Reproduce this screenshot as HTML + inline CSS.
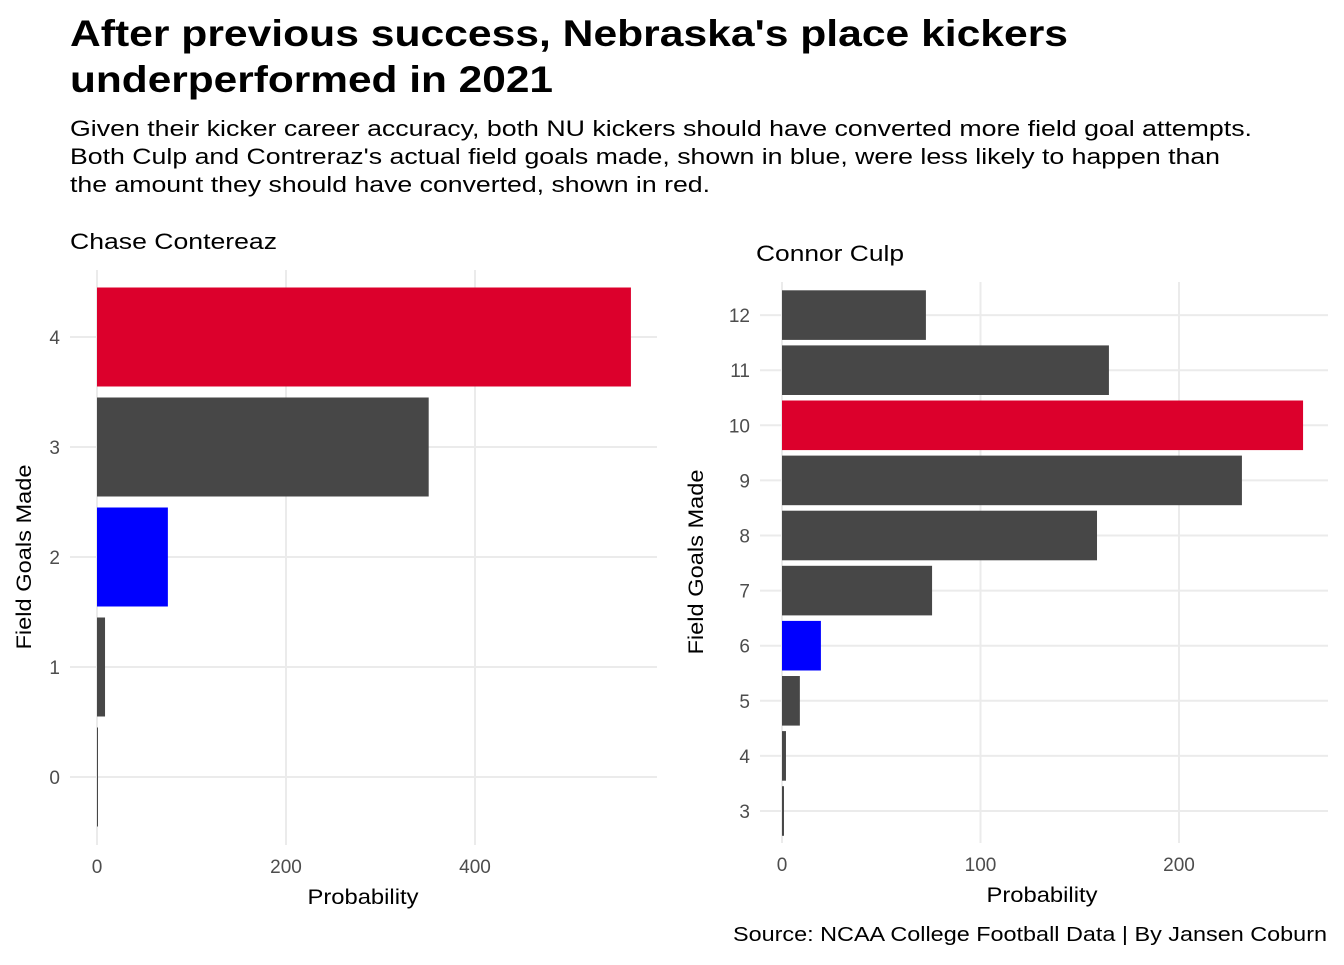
<!DOCTYPE html>
<html><head><meta charset="utf-8"><style>
body{margin:0;background:#fff;}
text{font-family:"Liberation Sans",Arial,sans-serif;}
</style></head><body>
<svg id="chart" width="1344" height="960" xmlns="http://www.w3.org/2000/svg">
<rect width="1344" height="960" fill="#fff"/>
<text x="70" y="46" font-size="37" font-weight="bold" fill="#000" textLength="998" lengthAdjust="spacingAndGlyphs">After previous success, Nebraska's place kickers</text>
<text x="70" y="92" font-size="37" font-weight="bold" fill="#000" textLength="483" lengthAdjust="spacingAndGlyphs">underperformed in 2021</text>
<text x="70" y="136" font-size="22" fill="#000" textLength="1182" lengthAdjust="spacingAndGlyphs">Given their kicker career accuracy, both NU kickers should have converted more field goal attempts.</text>
<text x="70" y="164" font-size="22" fill="#000" textLength="1150" lengthAdjust="spacingAndGlyphs">Both Culp and Contreraz's actual field goals made, shown in blue, were less likely to happen than</text>
<text x="70" y="192" font-size="22" fill="#000" textLength="640" lengthAdjust="spacingAndGlyphs">the amount they should have converted, shown in red.</text>
<text x="70" y="249" font-size="22" fill="#000" textLength="207" lengthAdjust="spacingAndGlyphs">Chase Contereaz</text>
<text x="756" y="261" font-size="22" fill="#000" textLength="148" lengthAdjust="spacingAndGlyphs">Connor Culp</text>
<g id="left"></g>
<g id="right"></g>
<text x="1327" y="941" font-size="20" text-anchor="end" fill="#000" textLength="594" lengthAdjust="spacingAndGlyphs">Source: NCAA College Football Data | By Jansen Coburn</text>
</svg>
<script>
const leftCats=[0,1,2,3,4];
const leftVals=[1,8.5,75,351,565];
const leftColors=["#474747","#474747","#0000ff","#474747","#dc002c"];
const leftTicks=[0,200,400];
const rightCats=[3,4,5,6,7,8,9,10,11,12];
const rightVals=[1,2,9,19.6,75.6,158.7,231.7,262.5,164.7,72.5];
const rightColors=["#474747","#474747","#474747","#0000ff","#474747","#474747","#474747","#dc002c","#474747","#474747"];
const rightTicks=[0,100,200];
const NS="http://www.w3.org/2000/svg";
function mk(parent,tag,attrs){const e=document.createElementNS(NS,tag);for(const k in attrs)e.setAttribute(k,attrs[k]);parent.appendChild(e);return e;}
function panel(g,cats,vals,colors,ticks,cfg){
  const xs=v=>cfg.x0+v*cfg.kx;
  const ys=c=>cfg.y0-(c-cats[0])*cfg.ky;
  ticks.forEach(t=>{
    const l=mk(g,'line',{x1:xs(t),x2:xs(t),y1:cfg.top,y2:cfg.bot,stroke:'#ebebeb','stroke-width':2});
    
    
    const tx=mk(g,'text',{x:xs(t),y:cfg.bot+28,'font-size':19,'text-anchor':'middle',fill:'#4d4d4d'});
    tx.textContent=t;
    
    
  });
  cats.forEach(c=>{
    const l=mk(g,'line',{x1:cfg.left,x2:cfg.right,y1:ys(c),y2:ys(c),stroke:'#ebebeb','stroke-width':2});
    
    
    const tx=mk(g,'text',{x:cfg.left-10,y:ys(c)+7,'font-size':19,'text-anchor':'end',fill:'#4d4d4d'});
    tx.textContent=c;
    
    
  });
  cats.forEach((c,i)=>{
    const h=cfg.ky*0.9;
    const r=mk(g,'rect',{x:xs(0),y:ys(c)-h/2,width:Math.max(vals[i]*cfg.kx,1),height:h,fill:colors[i]});
    
    
  });
  const xt=mk(g,'text',{x:cfg.xtx,y:cfg.bot+59,'font-size':21,'text-anchor':'middle',fill:'#000',textLength:111,lengthAdjust:'spacingAndGlyphs'});
  xt.textContent='Probability';
  
  
  const yt=mk(g,'text',{x:0,y:0,'font-size':21,'text-anchor':'middle',fill:'#000',textLength:185,lengthAdjust:'spacingAndGlyphs',transform:`translate(${cfg.ytx},${cfg.ymid}) rotate(-90)`});
  yt.textContent='Field Goals Made';
  
  
}
panel(document.getElementById('left'),leftCats,leftVals,leftColors,leftTicks,
 {x0:97,kx:0.945,y0:777,ky:110,top:270,bot:845,left:70,right:657,xtx:363,ytx:31,ymid:557});
panel(document.getElementById('right'),rightCats,rightVals,rightColors,rightTicks,
 {x0:782,kx:1.985,y0:811,ky:55.1,top:282,bot:843,left:760,right:1328,xtx:1042,ytx:703,ymid:562});
</script>
</body></html>
